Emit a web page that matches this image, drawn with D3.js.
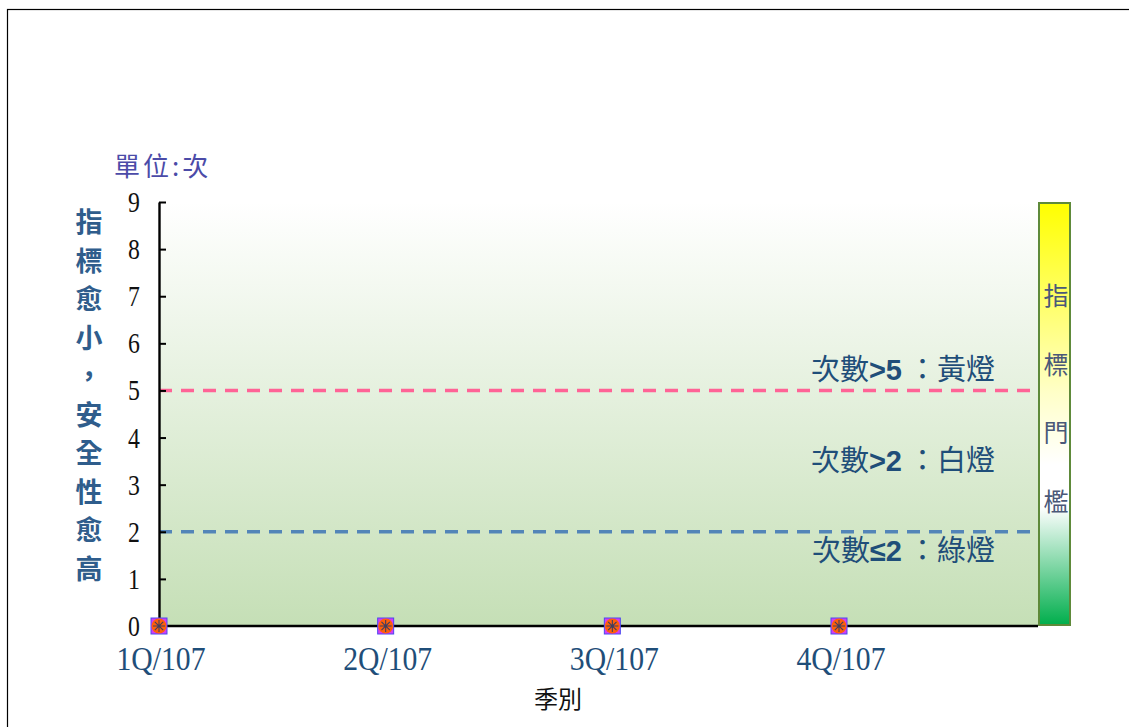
<!DOCTYPE html>
<html>
<head>
<meta charset="utf-8">
<script src="https://cdn.jsdelivr.net/npm/d3@7"></script>
<style>
  body { margin: 0; background: #fff; }
  svg { display: block; }
</style>
</head>
<body>
<div id="chart"></div>
<script>
// quarters and counts (all zero this year)
const quarters = ['1Q/107', '2Q/107', '3Q/107', '4Q/107'];
const counts = [0, 0, 0, 0];
const yTicks = [0, 1, 2, 3, 4, 5, 6, 7, 8, 9];
const thresholds = [
  { value: 5, color: '#ff6396' },
  { value: 2, color: '#5385b8' }
];
const zoneLabels = [
  { y: 5.22, pre: '次數', mid: '>5', post: '：黃燈' },
  { y: 3.3, pre: '次數', mid: '>2', post: '：白燈' },
  { y: 1.38, pre: '次數', mid: '≤2', post: '：綠燈' }
];
const yTitle = '指標愈小，安全性愈高'.split('');
const barTitle = '指標門檻'.split('');

const W = 1129, H = 727;
const plot = { left: 159, right: 1038, top: 202, bottom: 626 };

const svg = d3.select('#chart').append('svg')
  .attr('width', W).attr('height', H);

// outer frame
svg.append('rect')
  .attr('x', 7.5).attr('y', 9.5)
  .attr('width', W).attr('height', H)
  .attr('fill', 'none').attr('stroke', '#000').attr('stroke-width', 1.2);

const defs = svg.append('defs');
const bg = defs.append('linearGradient').attr('id', 'bg')
  .attr('x1', 0).attr('y1', 0).attr('x2', 0).attr('y2', 1);
bg.append('stop').attr('offset', '0%').attr('stop-color', '#ffffff');
bg.append('stop').attr('offset', '100%').attr('stop-color', '#c5dfb6');

const gauge = defs.append('linearGradient').attr('id', 'gauge')
  .attr('x1', 0).attr('y1', 0).attr('x2', 0).attr('y2', 1);
gauge.append('stop').attr('offset', '0%').attr('stop-color', '#ffff00');
gauge.append('stop').attr('offset', '45%').attr('stop-color', '#ffffc8');
gauge.append('stop').attr('offset', '62%').attr('stop-color', '#ffffff');
gauge.append('stop').attr('offset', '72%').attr('stop-color', '#ffffff');
gauge.append('stop').attr('offset', '100%').attr('stop-color', '#00ae4c');

const x = d3.scaleLinear().domain([0, quarters.length - 1]).range([plot.left, 839]);
const y = d3.scaleLinear().domain([0, 9]).range([plot.bottom, plot.top]);

// plot background
svg.append('rect')
  .attr('x', plot.left).attr('y', y(9))
  .attr('width', plot.right - plot.left).attr('height', y(0) - y(9))
  .attr('fill', 'url(#bg)');

// threshold lines
svg.selectAll('.thr').data(thresholds).enter().append('line')
  .attr('x1', plot.left).attr('x2', plot.right - 3)
  .attr('y1', d => y(d.value)).attr('y2', d => y(d.value))
  .attr('stroke', d => d.color).attr('stroke-width', 3.5)
  .attr('stroke-dasharray', '13,9');

// zone labels
const zl = svg.selectAll('.zone').data(zoneLabels).enter().append('text')
  .attr('x', 995).attr('y', d => y(d.y))
  .attr('text-anchor', 'end')
  .attr('fill', '#1f4e79')
  .style('font-family', '"Noto Sans CJK TC", sans-serif')
  .style('font-size', '29px');
zl.append('tspan').text(d => d.pre);
zl.append('tspan').attr('font-weight', 'bold')
  .style('font-family', '"Liberation Sans", Arial, sans-serif').text(d => d.mid);
zl.append('tspan').attr('dx', 6).text(d => d.post);

// y axis
const yAxis = svg.append('g')
  .attr('transform', `translate(${plot.left},0)`)
  .call(d3.axisRight(y).tickValues(yTicks).tickSize(7).tickSizeOuter(0).tickFormat(''));
yAxis.select('.domain').attr('stroke', '#000').attr('stroke-width', 2.4);
yAxis.selectAll('.tick line').attr('stroke', '#000').attr('stroke-width', 2);

svg.selectAll('.ylab').data(yTicks).enter().append('text')
  .attr('transform', d => `translate(134,${y(d) + 10}) scale(0.82,1)`)
  .attr('text-anchor', 'middle')
  .attr('fill', '#111')
  .style('font-family', '"Liberation Serif", serif')
  .style('font-size', '29px')
  .text(d => d);

// x axis
svg.append('line')
  .attr('x1', plot.left).attr('x2', plot.right)
  .attr('y1', y(0)).attr('y2', y(0))
  .attr('stroke', '#000').attr('stroke-width', 2.4);

svg.selectAll('.xlab').data(quarters).enter().append('text')
  .attr('transform', (d, i) => `translate(${x(i) + 2},670) scale(0.9,1)`)
  .attr('text-anchor', 'middle')
  .attr('fill', '#1f4e79')
  .style('font-family', '"Liberation Serif", serif')
  .style('font-size', '33px')
  .text(d => d);

svg.append('text')
  .attr('x', 558).attr('y', 708)
  .attr('text-anchor', 'middle')
  .attr('fill', '#111')
  .style('font-family', '"Noto Sans CJK TC", sans-serif')
  .style('font-size', '24px')
  .text('季別');

// unit
svg.append('text')
  .attr('x', 114).attr('y', 176)
  .attr('fill', '#4b4ba8')
  .attr('letter-spacing', 3)
  .style('font-family', '"Noto Sans CJK TC", sans-serif')
  .style('font-size', '26px')
  .text('單位:次');

// vertical y title
svg.selectAll('.ytitle').data(yTitle).enter().append('text')
  .attr('x', 89).attr('y', (d, i) => 232 + i * 38.5)
  .attr('text-anchor', 'middle')
  .attr('fill', '#2f5d8c')
  .style('font-family', '"Noto Sans CJK TC", sans-serif')
  .style('font-size', '27px')
  .attr('font-weight', 'bold')
  .text(d => d);

// markers
const m = svg.selectAll('.pt').data(counts).enter().append('g')
  .attr('transform', (d, i) => `translate(${x(i)},${y(d)})`);
m.append('rect').attr('x', -8).attr('y', -8).attr('width', 16).attr('height', 16)
  .attr('fill', '#d63cf0').attr('stroke', '#4a4af0').attr('stroke-width', 1);
m.append('circle').attr('r', 7.5).attr('fill', '#ff5e0a');
m.append('path')
  .attr('d', 'M-6,0H6M0,-6V6M-4.2,-4.2L4.2,4.2M-4.2,4.2L4.2,-4.2')
  .attr('stroke', '#3e3e60').attr('stroke-width', 1.1);

// threshold gauge on the right
svg.append('rect')
  .attr('x', 1039).attr('y', 203)
  .attr('width', 31).attr('height', 422)
  .attr('fill', 'url(#gauge)')
  .attr('stroke', '#5e8a3a').attr('stroke-width', 2);

svg.selectAll('.btitle').data(barTitle).enter().append('text')
  .attr('x', 1056).attr('y', (d, i) => 305 + i * 68.5)
  .attr('text-anchor', 'middle')
  .attr('fill', '#4a5878')
  .style('font-family', '"Noto Sans CJK TC", sans-serif')
  .style('font-size', '25px')
  .text(d => d);
</script>
</body>
</html>
